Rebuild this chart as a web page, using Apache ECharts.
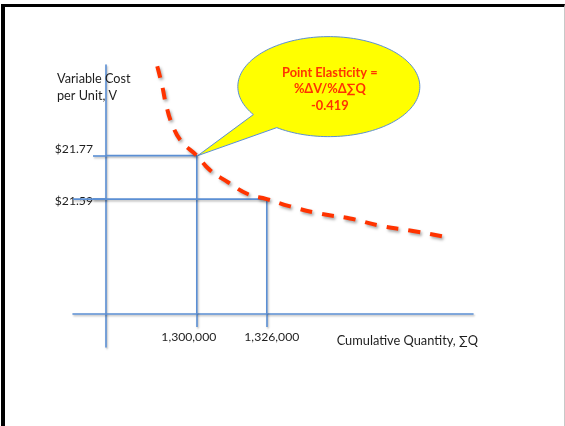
<!DOCTYPE html>
<html><head><meta charset="utf-8">
<script src="https://cdn.jsdelivr.net/npm/echarts@6/dist/echarts.min.js"></script>
<style>
html,body{margin:0;padding:0;background:#fff;}
#chart{position:absolute;left:0;top:0;width:565px;height:426px;}
#frame{position:absolute;left:1px;top:4px;width:559px;height:440px;border-left:4px solid #000;border-top:3px solid #000;border-right:1px solid #c8c8c8;pointer-events:none;box-sizing:content-box;}
</style></head><body>
<div id="chart"></div><div id="frame"></div>
<script>
// ---- data ----
const quantities = [1300000, 1326000];
const costs = [21.77, 21.59];
const elasticity = -0.419;
const curveQ = [1285300, 1287100, 1288600, 1290800, 1294200, 1300000, 1304900, 1311600, 1319100, 1326000, 1334700, 1345800, 1356900, 1368100, 1379200, 1394200];
const curveV = [22.14, 22.06, 21.98, 21.90, 21.83, 21.77, 21.71, 21.66, 21.61, 21.59, 21.56, 21.53, 21.51, 21.48, 21.46, 21.43];
const xTickLabels = ['1,300,000', '1,326,000'];
const yTickLabels = ['$21.77', '$21.59'];
const xTitle = 'Cumulative Quantity, \u2211Q';
const yTitle = 'Variable Cost\nper Unit, V';
const calloutLines = ['Point Elasticity =', '%\u0394V/%\u0394\u2211Q'];

// ---- layout / scale ----
const FONT = 'Lato, "Open Sans", sans-serif';
const TXT = '#1e1e1e';
const BLUE = '#5b8fd4';
const RED = '#ff3300';
const xMin = 1254000, xMax = 1402600, yMin = 20.978, yMax = 22.145;
const gridW = 400, gridH = 282, axisShift = 33;
const Q0 = xMin + (xMax - xMin) * axisShift / gridW;
const V0 = yMin + (yMax - yMin) * axisShift / gridH;
const blueShadow = {shadowColor:'rgba(0,0,0,0.28)', shadowBlur:2, shadowOffsetX:1, shadowOffsetY:1.5};

const chart = echarts.init(document.getElementById('chart'), null, {renderer:'canvas'});

const guideSeries = quantities.map((q, i) => ({
  type:'line', symbol:'none', silent:true, z:2,
  data: [[i === 0 ? Q0 : xMin, costs[i]], [q, costs[i]], [q, V0]],
  lineStyle: Object.assign({color:BLUE, width:1.6}, blueShadow)
}));

const option = {
  animation:false,
  backgroundColor:'#ffffff',
  title: {
    text: yTitle, left:57, top:70, padding:0,
    textStyle:{fontFamily:FONT, fontSize:12.7, fontWeight:'normal', color:TXT, lineHeight:17}
  },
  grid:{left:73, right:92, top:65, bottom:79, containLabel:false},
  xAxis:{
    type:'value', min:xMin, max:xMax, position:'bottom', offset:-axisShift,
    splitLine:{show:false},
    axisLine:{show:true, onZero:false, lineStyle:Object.assign({color:BLUE, width:1.6}, blueShadow)},
    axisTick:{show:true, customValues:quantities, length:13, inside:false, lineStyle:Object.assign({color:BLUE, width:1.6}, blueShadow)},
    axisLabel:{
      customValues:quantities, margin:17,
      formatter:(v) => { const i = quantities.indexOf(v); return (i === 0 ? '{l|' : '{r|') + xTickLabels[i] + '}'; },
      rich:{
        l:{fontFamily:FONT, fontSize:12.2, color:TXT, padding:[0,16,0,0]},
        r:{fontFamily:FONT, fontSize:12.2, color:TXT, padding:[0,0,0,10]}
      }
    },
    name:xTitle, nameLocation:'end', nameGap:5,
    nameTextStyle:{fontFamily:FONT, fontSize:12.8, color:TXT, align:'right', verticalAlign:'top', padding:[20,0,0,0]}
  },
  yAxis:{
    type:'value', min:yMin, max:yMax, position:'left', offset:-axisShift,
    splitLine:{show:false},
    axisLine:{show:true, onZero:false, lineStyle:Object.assign({color:BLUE, width:1.6}, blueShadow)},
    axisTick:{show:true, customValues:costs, length:13, inside:false, lineStyle:Object.assign({color:BLUE, width:1.6}, blueShadow)},
    axisLabel:{
      customValues:costs, margin:13,
      formatter:(v) => { const i = costs.indexOf(v); return (i === 0 ? '{u|' : '{d|') + yTickLabels[i] + '}'; },
      rich:{
        u:{fontFamily:FONT, fontSize:12.2, color:TXT, padding:[0,0,13,0]},
        d:{fontFamily:FONT, fontSize:12.2, color:TXT, padding:[3,0,0,0]}
      }
    }
  },
  series: guideSeries.concat([
    {
      type:'custom', coordinateSystem:'cartesian2d', clip:false, z:3, silent:true,
      data:[[quantities[0], costs[0], elasticity]],
      renderItem:(params, api) => {
        const tip = api.coord([api.value(0), api.value(1)]);
        const cx = tip[0] + 132, cy = tip[1] - 69, rx = 91, ry = 50;
        const a1 = 146 * Math.PI / 180, a2 = (124.9 + 360) * Math.PI / 180;
        const pts = [[tip[0] + 1, tip[1]]];
        const n = 160;
        for (let k = 0; k <= n; k++) {
          const t = a1 + (a2 - a1) * k / n;
          pts.push([cx + rx * Math.cos(t), cy + ry * Math.sin(t)]);
        }
        return {type:'group', children:[
          {type:'polygon', shape:{points:pts}, style:{fill:'#ffff00', stroke:BLUE, lineWidth:1}},
          {type:'text', style:{
            text: calloutLines.join('\n') + '\n' + api.value(2).toFixed(3),
            x: cx + 1, y: cy + 2.5, align:'center', verticalAlign:'middle',
            fill:RED, fontFamily:FONT, fontSize:12.8, fontWeight:'bold', lineHeight:16.5
          }}
        ]};
      }
    },
    {
      type:'line', symbol:'none', smooth:true, silent:true, z:4,
      data: curveQ.map((q, i) => [q, curveV[i]]),
      lineStyle:{color:RED, width:4, type:[12,10], cap:'butt',
        shadowColor:'rgba(0,0,0,0.35)', shadowBlur:3, shadowOffsetX:1.5, shadowOffsetY:2}
    }
  ])
};
chart.setOption(option);
</script>
</body></html>
